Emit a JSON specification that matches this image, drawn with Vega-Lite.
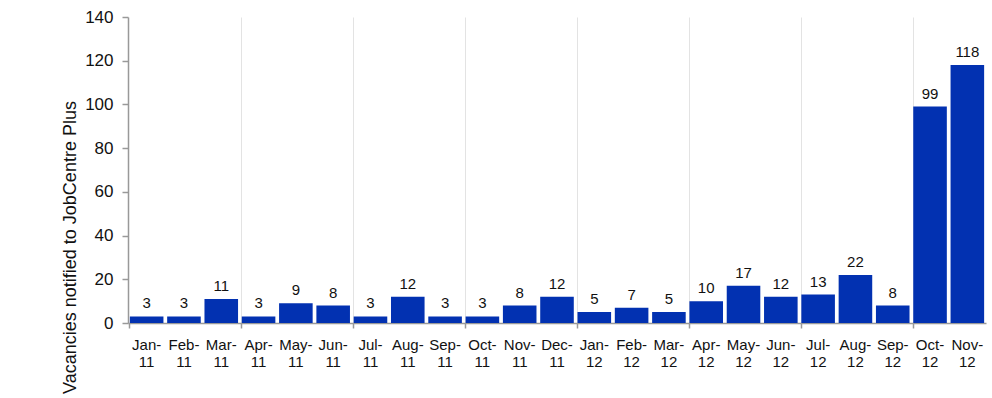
{
  "$schema": "https://vega.github.io/schema/vega-lite/v6.json",
  "width": 858,
  "height": 306,
  "autosize": {"type": "none"},
  "padding": {"left": 128, "top": 17, "right": 6, "bottom": 75},
  "background": "white",
  "config": {
    "view": {"stroke": null},
    "font": "Liberation Sans",
    "axis": {"labelFont": "Liberation Sans", "titleFont": "Liberation Sans", "labelColor": "#111", "titleColor": "#111"}
  },
  "data": {
    "values": [
      {"month": "Jan-11", "value": 3},
      {"month": "Feb-11", "value": 3},
      {"month": "Mar-11", "value": 11},
      {"month": "Apr-11", "value": 3},
      {"month": "May-11", "value": 9},
      {"month": "Jun-11", "value": 8},
      {"month": "Jul-11", "value": 3},
      {"month": "Aug-11", "value": 12},
      {"month": "Sep-11", "value": 3},
      {"month": "Oct-11", "value": 3},
      {"month": "Nov-11", "value": 8},
      {"month": "Dec-11", "value": 12},
      {"month": "Jan-12", "value": 5},
      {"month": "Feb-12", "value": 7},
      {"month": "Mar-12", "value": 5},
      {"month": "Apr-12", "value": 10},
      {"month": "May-12", "value": 17},
      {"month": "Jun-12", "value": 12},
      {"month": "Jul-12", "value": 13},
      {"month": "Aug-12", "value": 22},
      {"month": "Sep-12", "value": 8},
      {"month": "Oct-12", "value": 99},
      {"month": "Nov-12", "value": 118}
    ]
  },
  "encoding": {
    "x": {
      "field": "month",
      "type": "ordinal",
      "sort": null,
      "scale": {"paddingInner": 0.1, "paddingOuter": 0.05},
      "axis": {
        "title": null,
        "labelAngle": 0,
        "labelFontSize": 15,
        "labelPadding": 9,
        "labelLineHeight": 17,
        "labelExpr": "[split(datum.label, '-')[0] + '-', split(datum.label, '-')[1]]",
        "bandPosition": 0,
        "domainColor": "#999",
        "domainWidth": 1.5,
        "grid": true,
        "gridColor": {"condition": {"test": "indexof(['Apr-11','Jul-11','Oct-11','Jan-12','Apr-12','Jul-12','Oct-12'], datum.value) >= 0", "value": "#e3e3e3"}, "value": "transparent"},
        "gridWidth": 1,
        "tickSize": 5,
        "tickWidth": 1.5,
        "tickColor": {"condition": {"test": "indexof(['Jan-11','Apr-11','Jul-11','Oct-11','Jan-12','Apr-12','Jul-12','Oct-12'], datum.value) >= 0", "value": "#999"}, "value": "transparent"}
      }
    },
    "y": {
      "field": "value",
      "type": "quantitative",
      "scale": {"domain": [0, 140]},
      "axis": {
        "title": "Vacancies notified to JobCentre Plus",
        "titleFontSize": 18,
        "titleFontWeight": "normal",
        "titleX": -58,
        "titleY": 230,
        "titleAngle": -90,
        "titleBaseline": "middle",
        "titleAnchor": "middle",
        "titleAlign": "center",
        "values": [0, 20, 40, 60, 80, 100, 120, 140],
        "labelFontSize": 17,
        "labelPadding": 9,
        "grid": false,
        "domainColor": "#999",
        "domainWidth": 1.5,
        "tickColor": "#999",
        "tickWidth": 1.5,
        "tickSize": 6
      }
    }
  },
  "layer": [
    {"mark": {"type": "bar", "color": "#0231B1"}},
    {
      "mark": {"type": "text", "baseline": "bottom", "dy": -5, "fontSize": 15, "color": "#111", "font": "Liberation Sans"},
      "encoding": {"text": {"field": "value", "type": "quantitative"}}
    }
  ]
}
